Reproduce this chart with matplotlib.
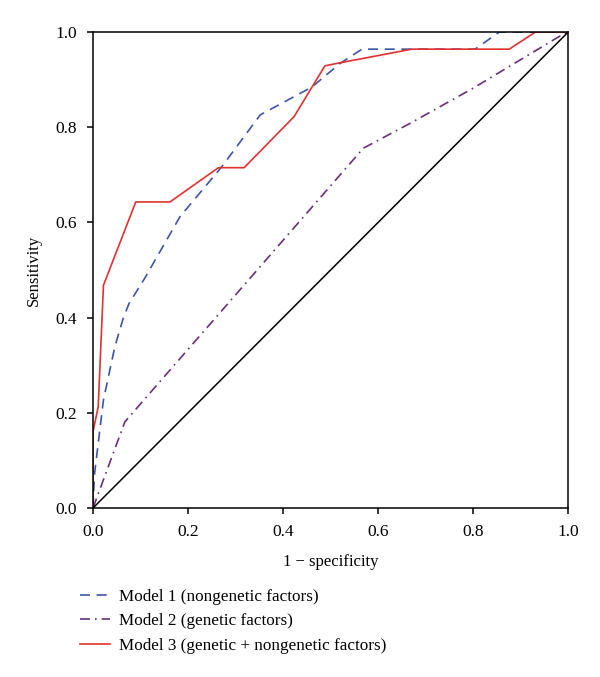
import matplotlib
matplotlib.use('Agg')
import matplotlib.pyplot as plt

# ROC curve points
m1_fpr = [0.0, 0.003, 0.022, 0.046, 0.064, 0.076, 0.109, 0.183, 0.271, 0.352, 0.46, 0.52, 0.566, 0.804, 0.855, 1.0]
m1_tpr = [0.0, 0.07, 0.227, 0.339, 0.40, 0.43, 0.483, 0.612, 0.717, 0.826, 0.884, 0.934, 0.964, 0.964, 1.0, 1.0]

m2_fpr = [0.0, 0.067, 0.569, 0.667, 0.80, 0.98, 1.0]
m2_tpr = [0.0, 0.181, 0.756, 0.808, 0.882, 0.99, 1.0]

m3_fpr = [0.0, 0.0, 0.011, 0.022, 0.09, 0.162, 0.264, 0.318, 0.423, 0.488, 0.518, 0.671, 0.876, 0.931, 1.0]
m3_tpr = [0.0, 0.16, 0.213, 0.468, 0.643, 0.643, 0.715, 0.715, 0.822, 0.929, 0.935, 0.964, 0.964, 1.0, 1.0]

labels = ['Model 1 (nongenetic factors)', 'Model 2 (genetic factors)',
          'Model 3 (genetic + nongenetic factors)']
ticks = [0.0, 0.2, 0.4, 0.6, 0.8, 1.0]

plt.rcParams['font.family'] = ['Liberation Serif', 'DejaVu Serif']

fig = plt.figure(figsize=(6, 6.77), dpi=100)
ax = fig.add_axes([0.155, 0.2496, 0.792, 0.7031])

ax.plot(m1_fpr, m1_tpr, color='#3d55a8', lw=1.2, ls=(0, (6, 4)), label=labels[0])
ax.plot(m2_fpr, m2_tpr, color='#6b2e7d', lw=1.2, ls=(0, (6, 3, 1, 3)), label=labels[1])
ax.plot(m3_fpr, m3_tpr, color='#e0322f', lw=1.2, label=labels[2])
ax.plot([0, 1], [0, 1], color='black', lw=1.1)

ax.set_xlim(0, 1)
ax.set_ylim(0, 1)
ax.set_xticks(ticks)
ax.set_yticks(ticks)
ax.set_xticklabels(['%.1f' % t for t in ticks])
ax.set_yticklabels(['%.1f' % t for t in ticks])
ax.tick_params(direction='out', length=4.5, width=1.1, labelsize=12.5, pad=7)
for s in ax.spines.values():
    s.set_linewidth(1.1)
ax.set_xlabel('1 \u2212 specificity', fontsize=12, labelpad=10)
ax.set_ylabel('Sensitivity', fontsize=12, labelpad=10)

fig.legend(loc='upper left', bbox_to_anchor=(0.133, 0.1306), frameon=False,
           fontsize=12.3, handlelength=1.75, labelspacing=0.52, handletextpad=0.55,
           borderpad=0, borderaxespad=0)

fig.savefig('out.png', dpi=100)
